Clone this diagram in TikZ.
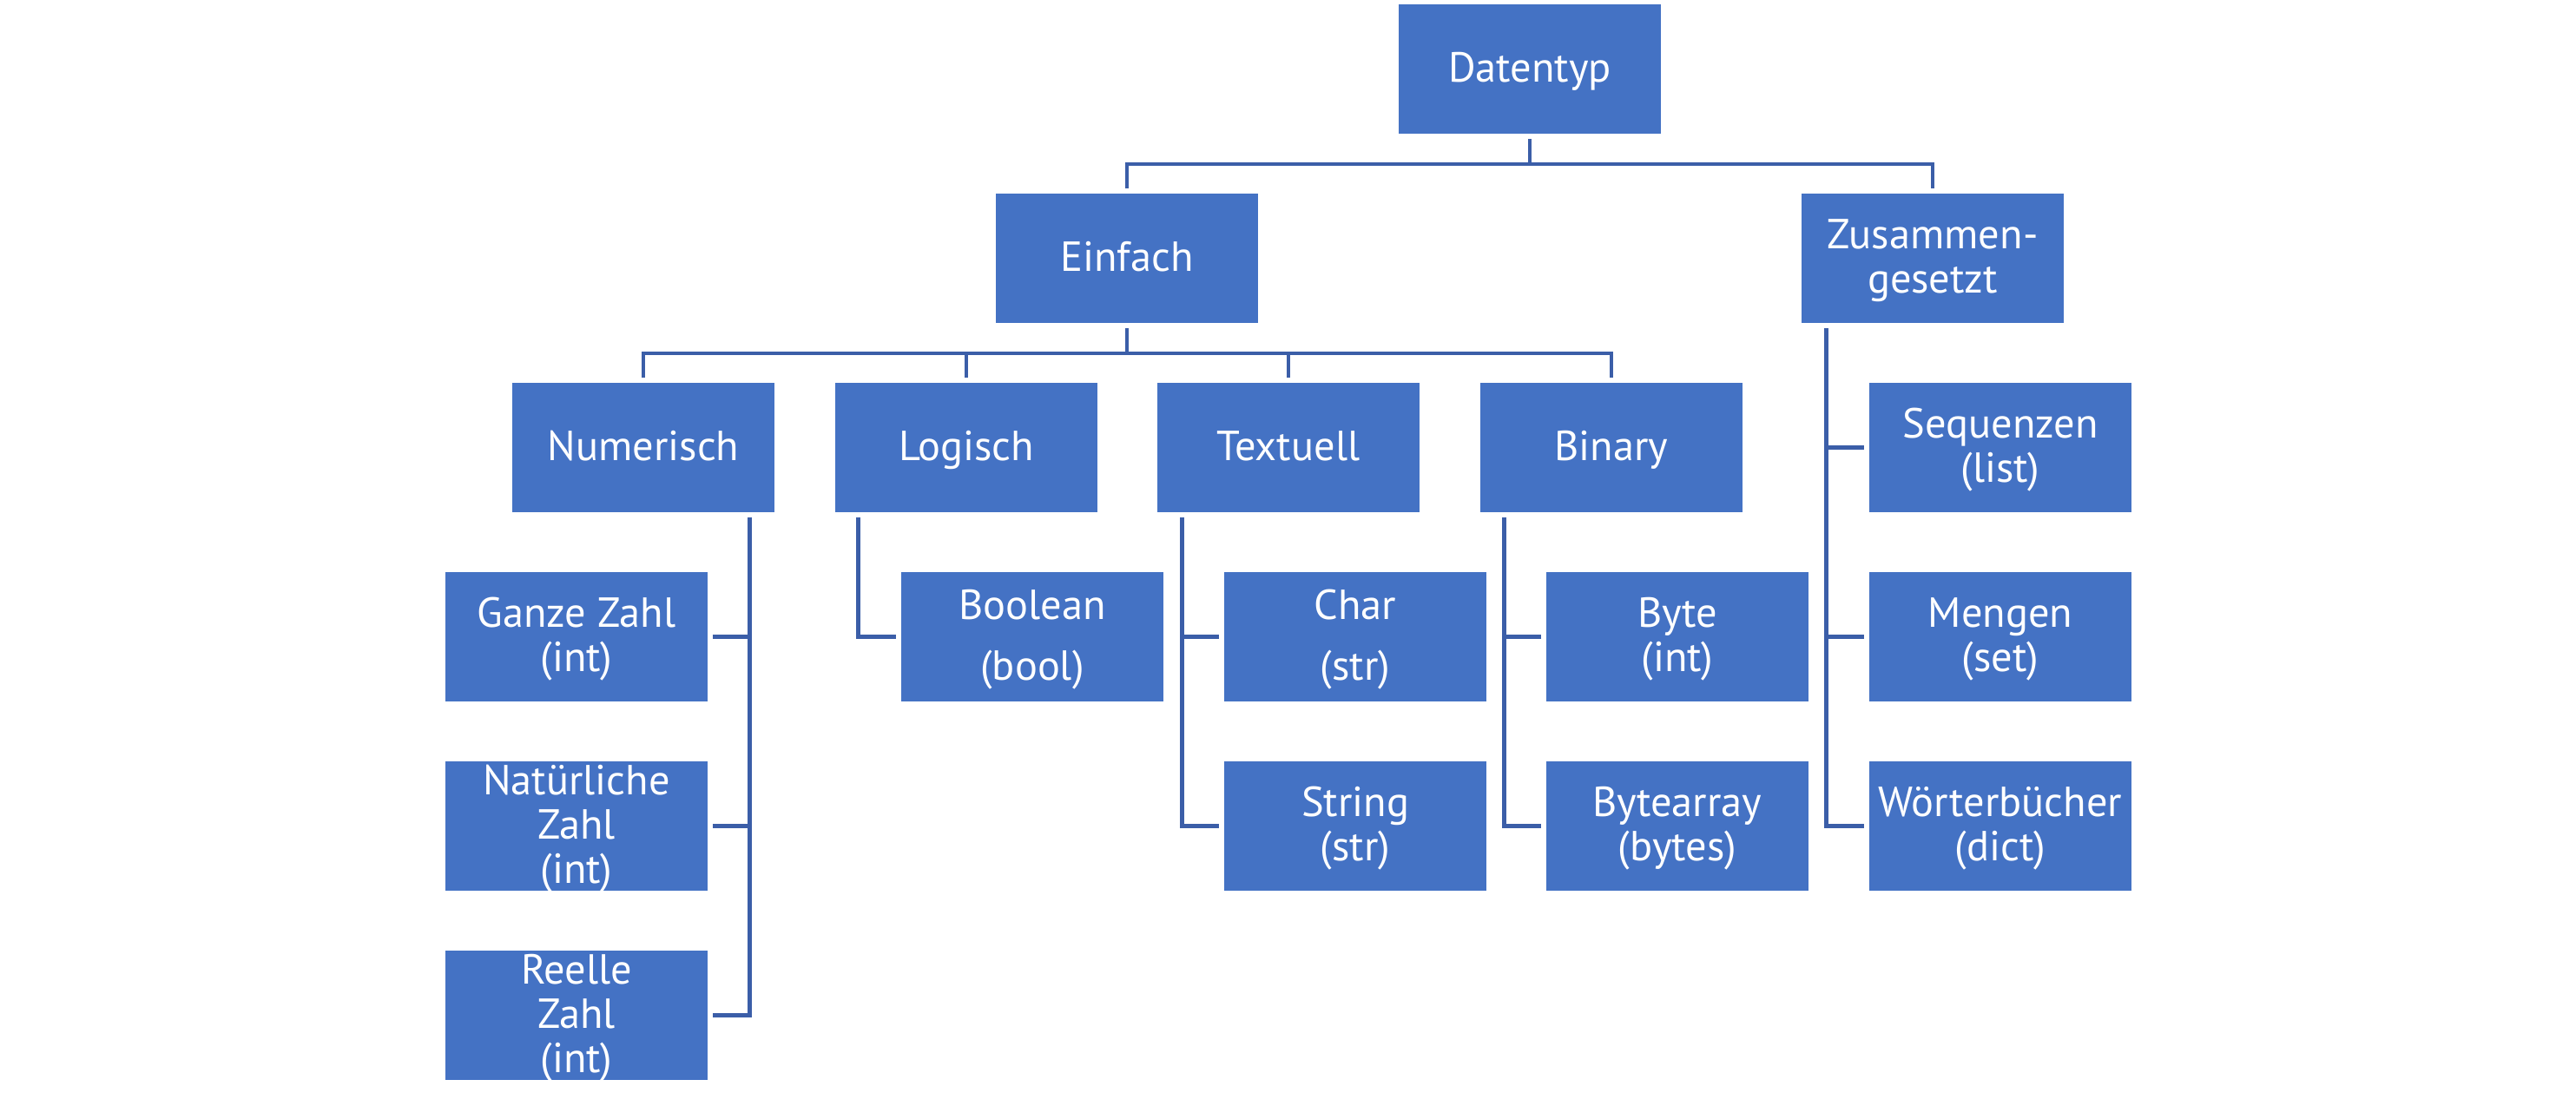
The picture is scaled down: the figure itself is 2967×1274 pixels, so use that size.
\documentclass[tikz,border=0pt]{standalone}
\usepackage{fontspec}
\setmainfont{PT Sans}
\usetikzlibrary{calc}
\definecolor{boxblue}{HTML}{4472C4}
\definecolor{lineblue}{HTML}{3B5EA8}
\newcommand{\topstrut}{\rule{0pt}{9pt}}
\newcommand{\lastline}[1]{\smash{#1}\rule[-1.6pt]{0pt}{1.6pt}}
\begin{document}
\begin{tikzpicture}[x=0.25pt,y=-0.25pt,
  box/.style={rectangle, fill=boxblue, text=white, minimum width=75.5pt, minimum height=37.25pt,
    inner sep=0pt, align=center, font=\fontsize{12.1}{12.75}\selectfont},
  conn/.style={draw=lineblue, line width=1.2pt, line join=miter}]
\useasboundingbox (0,0) rectangle (2967,1274);
\node[box] (dt) at (1762,79.5) {\topstrut\lastline{Datentyp}};
\node[box] (ein) at (1298,297.5) {\topstrut\lastline{Einfach}};
\node[box] (zus) at (2226,297.5) {\topstrut Zusammen-\\\lastline{gesetzt}};
\node[box] (num) at (741,515.5) {\topstrut\lastline{Numerisch}};
\node[box] (log) at (1113,515.5) {\topstrut\lastline{Logisch}};
\node[box] (txt) at (1484,515.5) {\topstrut\lastline{Textuell}};
\node[box] (bin) at (1856,515.5) {\topstrut\lastline{Binary}};
\node[box] (seq) at (2304,515.5) {\topstrut Sequenzen\\\lastline{(list)}};
\node[box] (ganz) at (664,733.5) {\topstrut Ganze Zahl\\\lastline{(int)}};
\node[box] (nat) at (664,951.5) {\topstrut Natürliche\\Zahl\\\lastline{(int)}};
\node[box] (reel) at (664,1169.5) {\topstrut Reelle\\Zahl\\\lastline{(int)}};
\node[box] (bool) at (1189,733.5) {\topstrut Boolean\\[4.75pt]\lastline{(bool)}};
\node[box] (char) at (1561,733.5) {\topstrut Char\\[4.75pt]\lastline{(str)}};
\node[box] (str) at (1561,951.5) {\topstrut String\\\lastline{(str)}};
\node[box] (byte) at (1932,733.5) {\topstrut Byte\\\lastline{(int)}};
\node[box] (barr) at (1932,951.5) {\topstrut Bytearray\\\lastline{(bytes)}};
\node[box] (meng) at (2304,733.5) {\topstrut Mengen\\\lastline{(set)}};
\node[box] (woe) at (2304,951.5) {\topstrut Wörterbücher\\\lastline{(dict)}};
% top level
\coordinate (b0) at (1762,189);
\coordinate (b1) at (1298,407);
\draw[conn] ($(dt.south)+(0,5)$) -- (b0);
\draw[conn] ($(ein.north)+(0,-5)$) |- (b0) -| ($(zus.north)+(0,-5)$);
% second level
\draw[conn] ($(ein.south)+(0,5)$) -- (b1);
\draw[conn] ($(num.north)+(0,-5)$) |- (b1) -| ($(bin.north)+(0,-5)$);
\draw[conn] ($(log.north)+(0,-5)$) -- (log.north |- b1);
\draw[conn] ($(txt.north)+(0,-5)$) -- (txt.north |- b1);
% Numerisch
\coordinate (nv) at ($(num.south east)+(-29,5)$);
\draw[conn] (nv) |- ($(reel.east)+(5,0)$);
\draw[conn] ($(ganz.east)+(5,0)$) -- (nv |- ganz.east);
\draw[conn] ($(nat.east)+(5,0)$) -- (nv |- nat.east);
% Logisch
\coordinate (lv) at ($(log.south west)+(27,5)$);
\draw[conn] (lv) |- ($(bool.west)+(-5,0)$);
% Textuell
\coordinate (tv) at ($(txt.south west)+(29,5)$);
\draw[conn] (tv) |- ($(str.west)+(-5,0)$);
\draw[conn] ($(char.west)+(-5,0)$) -- (tv |- char.west);
% Binary
\coordinate (bv) at ($(bin.south west)+(28,5)$);
\draw[conn] (bv) |- ($(barr.west)+(-5,0)$);
\draw[conn] ($(byte.west)+(-5,0)$) -- (bv |- byte.west);
% Zusammengesetzt
\coordinate (zv) at ($(zus.south west)+(29,5)$);
\draw[conn] (zv) |- ($(woe.west)+(-5,0)$);
\draw[conn] ($(seq.west)+(-5,0)$) -- (zv |- seq.west);
\draw[conn] ($(meng.west)+(-5,0)$) -- (zv |- meng.west);
\end{tikzpicture}
\end{document}
